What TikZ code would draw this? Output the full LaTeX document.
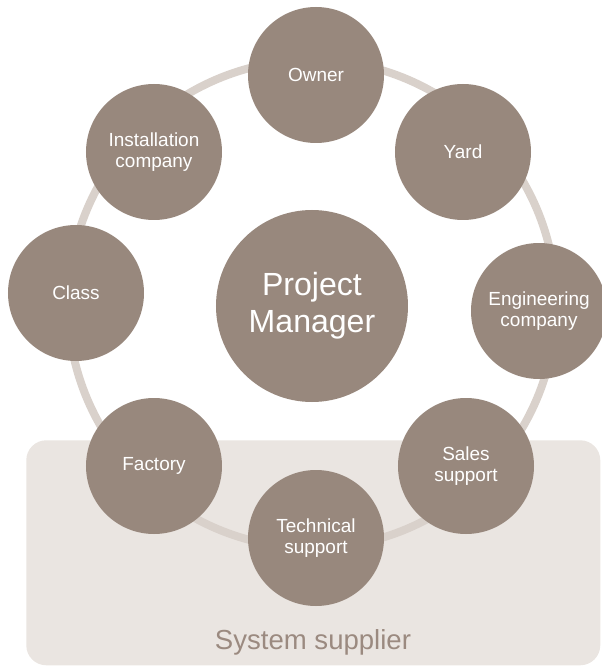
\documentclass[tikz,border=0pt]{standalone}
\usepackage{fontspec}
\setsansfont{Liberation Sans}
\usetikzlibrary{positioning}

\definecolor{roleFill}{HTML}{98887D}
\definecolor{ringGray}{HTML}{D9D1CB}
\definecolor{supplierBg}{HTML}{EAE5E1}
\definecolor{supplierText}{HTML}{9B8A80}

\begin{document}
\begin{tikzpicture}[
		font=\sffamily,
		% Style for the stakeholder circles
		role/.style={
			circle, fill=roleFill, text=white, align=center,
			minimum size=3.4cm, inner sep=0pt,
			font=\sffamily\fontsize{13.5pt}{15.5pt}\selectfont
		},
		% Central circle
		hub/.style={
			role, minimum size=4.8cm,
			font=\sffamily\fontsize{22.8pt}{26.3pt}\selectfont
		},
		% Ring & group box
		ring/.style={draw=ringGray, line width=0.2cm},
		groupBox/.style={fill=supplierBg, rounded corners=0.5cm},
		groupLabel/.style={text=supplierText, font=\sffamily\fontsize{19.6pt}{22pt}\selectfont}
		]
		\useasboundingbox (-7.8, 7.6) rectangle (7.225, -9.05);
		
		% ==============================================================================
		% System supplier area & ring
		% ==============================================================================
		\node[groupBox, minimum width=14.35cm, minimum height=5.625cm, anchor=north west] (supplier) at (-7.15, -3.4) {};
		\node[groupLabel] (supplierLabel) at (0.025, -8.45) {System supplier};
		\draw[ring] (0, 0) circle (6.1cm);
		
		% ==============================================================================
		% Stakeholders
		% ==============================================================================
		\node[hub] (pm) at (0, -0.05) {Project\\Manager};
		
		\node[role] (owner) at (0.1, 5.725) {Owner};
		\node[role] (yard) at (3.775, 3.8) {Yard};
		\node[role] (eng) at (5.675, -0.175) {Engineering\\company};
		\node[role] (sales) at (3.85, -4.05) {Sales\\support};
		\node[role] (tech) at (0.1, -5.85) {Technical\\support};
		\node[role] (factory) at (-3.95, -4.05) {Factory};
		\node[role] (class) at (-5.9, 0.275) {Class};
		\node[role] (install) at (-3.95, 3.8) {Installation\\company};
	\end{tikzpicture}
\end{document}
